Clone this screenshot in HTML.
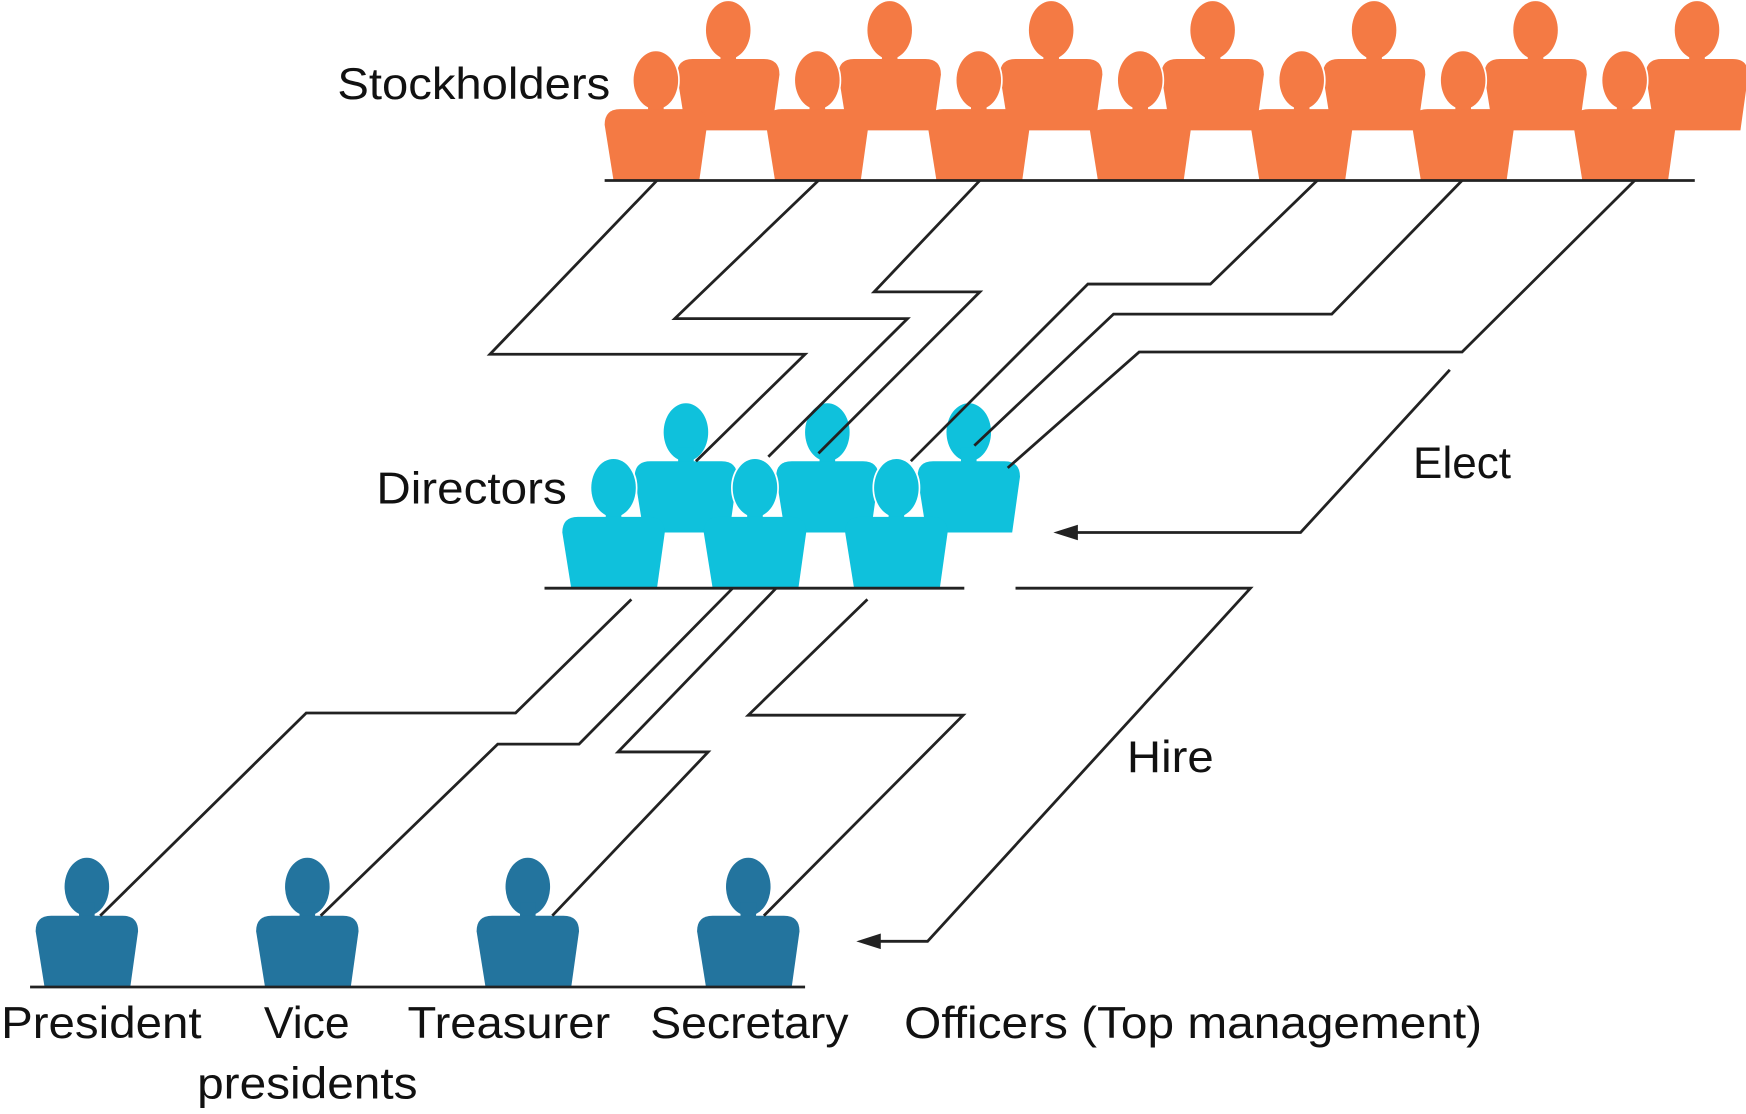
<!DOCTYPE html>
<html><head><meta charset="utf-8"><style>html,body{margin:0;padding:0;background:#fff}svg{display:block}</style></head>
<body>
<svg width="1746" height="1114" viewBox="0 0 1568 1000" preserveAspectRatio="none" xmlns="http://www.w3.org/2000/svg">
<defs>
<g id="single">
  <ellipse cx="46" cy="26" rx="20" ry="26"/>
  <rect x="39" y="40" width="14" height="15"/>
  <path d="M14 52 H78 Q92 52 92 66 L85 116 H8 L0 66 Q0 52 14 52 Z"/>
</g>
<g id="singleW">
  <ellipse cx="46" cy="26" rx="20" ry="26" stroke="#fff" stroke-width="3"/>
  <rect x="39" y="40" width="14" height="15"/>
  <path d="M14 52 H78 Q92 52 92 66 L85 116 H8 L0 66 Q0 52 14 52 Z"/>
  <ellipse cx="46" cy="26" rx="20" ry="26"/>
</g>
<g id="pairS">
  <use href="#single" x="65" y="1"/>
  <use href="#singleW" x="0" y="46"/>
</g>
<g id="pairD">
  <use href="#single" x="65" y="0"/>
  <use href="#singleW" x="0" y="50"/>
</g>
</defs>
<g fill="#F47A44">
  <use href="#pairS" x="543" y="0"/><use href="#pairS" x="688" y="0"/><use href="#pairS" x="833" y="0"/><use href="#pairS" x="978" y="0"/><use href="#pairS" x="1123" y="0"/><use href="#pairS" x="1268" y="0"/><use href="#pairS" x="1413" y="0"/>
</g>
<g fill="#0FC1DC">
  <use href="#pairD" x="505" y="362"/><use href="#pairD" x="632" y="362"/><use href="#pairD" x="759" y="362"/>
</g>
<g fill="#23749E">
  <use href="#single" x="32" y="770"/><use href="#single" x="230" y="770"/><use href="#single" x="428" y="770"/><use href="#single" x="626" y="770"/>
</g>
<g stroke="#222" stroke-width="2.5" fill="none">
  <line x1="543" y1="162" x2="1522" y2="162"/>
  <line x1="489" y1="528" x2="866" y2="528"/>
  <line x1="27" y1="886" x2="723" y2="886"/>
  <polyline points="590,162 440,318 723,318 625,414"/>
  <polyline points="735,162 606,286 815,286 690,410"/>
  <polyline points="880,162 785,262 880,262 735,407"/>
  <polyline points="1183,162 1087,255 977,255 818,414"/>
  <polyline points="1313,162 1196,282 1000,282 875,400"/>
  <polyline points="1468,162 1313,316 1023,316 905,420"/>
  <polyline points="1302,332 1168,478 960,478"/>
  <polyline points="912,528 1123,528 833,845 782,845"/>
  <polyline points="567,538 463,640 275,640 90,822"/>
  <polyline points="658,528 520,668 447,668 288,822"/>
  <polyline points="697,528 555,675 636,675 496,822"/>
  <polyline points="779,538 672,642 865,642 686,822"/>
</g>
<polygon points="946,478 968,471 968,485" fill="#222"/>
<polygon points="769,845 791,838 791,852" fill="#222"/>
<g font-family="Liberation Sans, sans-serif" font-size="40" fill="#111">
  <text x="303" y="89" textLength="245" lengthAdjust="spacingAndGlyphs">Stockholders</text>
  <text x="338" y="452" textLength="171" lengthAdjust="spacingAndGlyphs">Directors</text>
  <text x="1269" y="429" textLength="88" lengthAdjust="spacingAndGlyphs">Elect</text>
  <text x="1012" y="693" textLength="78" lengthAdjust="spacingAndGlyphs">Hire</text>
  <text x="1" y="932" textLength="180" lengthAdjust="spacingAndGlyphs">President</text>
  <text x="237" y="932" textLength="77" lengthAdjust="spacingAndGlyphs">Vice</text>
  <text x="177" y="986" textLength="198" lengthAdjust="spacingAndGlyphs">presidents</text>
  <text x="366" y="932" textLength="182" lengthAdjust="spacingAndGlyphs">Treasurer</text>
  <text x="584" y="932" textLength="178" lengthAdjust="spacingAndGlyphs">Secretary</text>
  <text x="812" y="932" textLength="519" lengthAdjust="spacingAndGlyphs">Officers (Top management)</text>
</g>
</svg>
</body></html>
